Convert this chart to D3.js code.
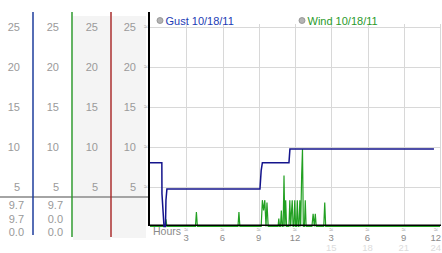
<!DOCTYPE html>
<html>
<head>
<meta charset="utf-8">
<script src="https://cdn.jsdelivr.net/npm/d3@7"></script>
<style>
    body { margin: 0; background: #fff; }
    svg { display: block; font-family: "Liberation Sans", Arial, sans-serif; }
</style>
</head>
<body>
<div id="chart"></div>
<script>
// y ticks shared by the four readout columns and the plot
var yTicks = [5, 10, 15, 20, 25];
var hourTicks = [3, 6, 9, 12, 15, 18, 21, 24];
var hourLabels = ["3", "6", "9", "12", "3", "6", "9", "12"];
var hourLabels2 = ["", "", "", "", "15", "18", "21", "24"];

// readouts under the separator, per column
var col1Values = ["9.7", "9.7", "0.0"];
var col2Values = ["9.7", "0.0", "0.0"];

var legendNames = ["Gust 10/18/11", "Wind 10/18/11"];

// [hour, mph]
var gustData = [[0, 8.0], [0.98, 8.0], [0.99, 4.1], [1.16, 0], [1.28, 0], [1.32, 3.3], [1.40, 4.7],
    [9.1, 4.7], [9.2, 7.0], [9.3, 8.0], [11.5, 8.0], [11.58, 9.7], [23.5, 9.7]];

var windData = [[0, 0], [1.24, 0], [1.32, 0.9], [1.4, 0],
    [3.76, 0], [3.84, 1.8], [3.92, 0],
    [7.28, 0], [7.36, 1.8], [7.44, 0],
    [9.2, 0], [9.3, 3.3], [9.4, 2.0], [9.5, 3.3], [9.6, 0], [9.68, 3.0], [9.78, 0],
    [10.6, 0], [10.66, 1.0], [10.72, 0], [10.8, 0], [10.87, 2.0], [10.94, 0], [11.02, 0], [11.09, 6.4],
    [11.16, 0], [11.23, 3.3], [11.3, 0],
    [11.5, 0], [11.57, 3.3], [11.64, 0], [11.7, 1.6], [11.77, 3.3], [11.84, 0], [11.91, 0], [11.98, 3.3],
    [12.05, 0], [12.12, 0], [12.19, 3.3], [12.26, 0], [12.33, 0], [12.40, 3.3], [12.47, 0], [12.55, 6.4],
    [12.62, 9.7], [12.69, 0], [12.78, 0], [12.85, 3.3], [12.92, 0],
    [13.4, 0], [13.5, 1.6], [13.6, 0], [13.68, 1.6], [13.76, 0],
    [14.38, 0], [14.46, 3.0], [14.54, 0],
    [24, 0]];

var width = 442, height = 253;
var gustColor = "#14148c", windColor = "#22a022";

var svg = d3.select("#chart").append("svg")
    .attr("width", width).attr("height", height);

var x = d3.scaleLinear().domain([0, 24]).range([150, 440]);
var y = d3.scaleLinear().domain([0, 25]).range([226.5, 27]);

// left readout columns
var colLines = [33, 72, 111, 149];
var colColors = ["#1e3c9c", "#2f9a2f", "#a82c2c"];

svg.append("rect").attr("x", 73).attr("y", 16).attr("width", 37.5).attr("height", 224).attr("fill", "#f4f4f4");
svg.append("rect").attr("x", 112).attr("y", 16).attr("width", 34).attr("height", 222).attr("fill", "#f4f4f4");

colLines.forEach(function (lx) {
    svg.append("g").selectAll("text").data(yTicks).enter().append("text")
        .attr("x", lx - 13).attr("y", function (d) { return y(d); })
        .attr("dy", "0.36em").attr("text-anchor", "end")
        .attr("font-size", 11).attr("fill", "#9a9a9a")
        .text(function (d) { return d; });
});

svg.append("line").attr("x1", 0).attr("x2", 149).attr("y1", 197).attr("y2", 197)
    .attr("stroke", "#a4a4a4").attr("stroke-width", 2);

[col1Values, col2Values].forEach(function (vals, i) {
    svg.append("g").selectAll("text").data(vals).enter().append("text")
        .attr("x", colLines[i] - 9).attr("y", function (d, j) { return 209 + j * 13.5; })
        .attr("text-anchor", "end").attr("font-size", 11).attr("fill", "#999")
        .text(function (d) { return d; });
});

colColors.forEach(function (c, i) {
    svg.append("line").attr("x1", colLines[i]).attr("x2", colLines[i])
        .attr("y1", 12).attr("y2", i === 0 ? 235 : 237)
        .attr("stroke", c).attr("stroke-width", 1.5);
});

// grid
svg.append("g").selectAll("line").data(yTicks).enter().append("line")
    .attr("x1", 149).attr("x2", 441)
    .attr("y1", function (d) { return Math.round(y(d)) + 0.5; })
    .attr("y2", function (d) { return Math.round(y(d)) + 0.5; })
    .attr("stroke", "#d8d8d8");
svg.append("g").selectAll("line").data(hourTicks).enter().append("line")
    .attr("x1", function (d) { return Math.round(x(d)) + 0.5; })
    .attr("x2", function (d) { return Math.round(x(d)) + 0.5; })
    .attr("y1", 24).attr("y2", 226)
    .attr("stroke", "#d8d8d8");

// little tick glyphs
svg.append("g").selectAll("text").data(yTicks).enter().append("text")
    .attr("x", 146).attr("y", function (d) { return y(d); }).attr("dy", "0.35em")
    .attr("text-anchor", "middle").attr("font-size", 7).attr("fill", "#999")
    .text("\u2248");
svg.append("g").selectAll("text").data(hourTicks).enter().append("text")
    .attr("x", function (d, i) { return i === hourTicks.length - 1 ? x(d) - 4 : x(d); }).attr("y", 232)
    .attr("text-anchor", "middle").attr("font-size", 7).attr("fill", "#999")
    .text("\u2248");

// series
var line = d3.line().x(function (d) { return x(d[0]); }).y(function (d) { return y(d[1]); });

svg.append("path").datum(windData).attr("d", line)
    .attr("fill", "none").attr("stroke", windColor).attr("stroke-width", 1.2);

// axes
svg.append("line").attr("x1", 149).attr("x2", 441).attr("y1", 225.2).attr("y2", 225.2)
    .attr("stroke", "#000").attr("stroke-width", 1.6);
svg.append("line").attr("x1", 149).attr("x2", 149).attr("y1", 12).attr("y2", 226)
    .attr("stroke", "#000").attr("stroke-width", 2);

svg.append("path").datum(gustData).attr("d", line)
    .attr("fill", "none").attr("stroke", gustColor).attr("stroke-width", 1.5);

// x labels; the last pair is pulled in so it stays inside the frame
function labelX(d, i) { return i === hourTicks.length - 1 ? x(d) + 1 : x(d); }
function labelAnchor(d, i) { return i === hourTicks.length - 1 ? "end" : "middle"; }

svg.append("text").attr("x", 153).attr("y", 235).attr("font-size", 10.5).attr("fill", "#8a8a8a").text("Hours");
svg.append("g").selectAll("text").data(hourTicks).enter().append("text")
    .attr("x", labelX).attr("y", 240.5)
    .attr("text-anchor", labelAnchor).attr("font-size", 9.5).attr("fill", "#8a8a8a")
    .text(function (d, i) { return hourLabels[i]; });
svg.append("g").selectAll("text").data(hourTicks).enter().append("text")
    .attr("x", labelX).attr("y", 251)
    .attr("text-anchor", labelAnchor).attr("font-size", 9.5).attr("fill", "#dcdcdc")
    .text(function (d, i) { return hourLabels2[i]; });

// legend
var legendX = [160, 302];
var legendColors = ["#1c3cb4", "#2a9a2a"];
legendNames.forEach(function (name, i) {
    svg.append("circle").attr("cx", legendX[i]).attr("cy", 20.5).attr("r", 3)
        .attr("fill", "#b4b4b4").attr("stroke", "#8c8c8c").attr("stroke-width", 0.8);
    svg.append("text").attr("x", legendX[i] + 5.5).attr("y", 24.5)
        .attr("font-size", 11).attr("fill", legendColors[i]).text(name);
});
</script>
</body>
</html>
